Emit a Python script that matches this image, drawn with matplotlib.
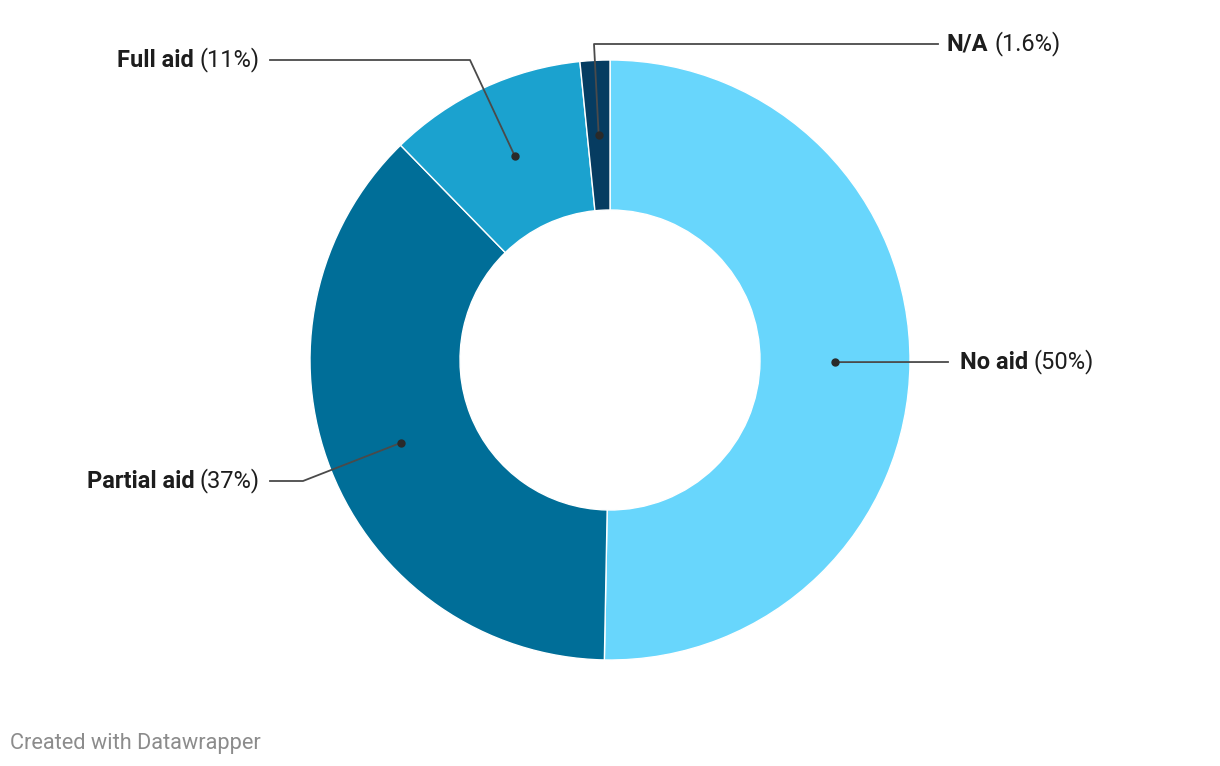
import numpy as np
import matplotlib.pyplot as plt
from matplotlib.offsetbox import TextArea, HPacker, AnnotationBbox

plt.rcParams['font.family'] = ['Roboto', 'DejaVu Sans']

# 数据
labels = ['No aid', 'Partial aid', 'Full aid', 'N/A']
values = [50.3, 37.4, 10.7, 1.6]
pct_text = ['50%', '37%', '11%', '1.6%']
colors = ['#68d6fc', '#006e98', '#1ba2cf', '#063c61']

W, H = 1220, 766
cx, cy, R = 610, 360, 300  # 像素

fig = plt.figure(figsize=(W / 100, H / 100), dpi=100)
ax = fig.add_axes([(cx - R) / W, (H - cy - R) / H, 2 * R / W, 2 * R / H])
ax.axis('off')

wedges, _ = ax.pie(values, colors=colors, startangle=90, counterclock=False,
                   radius=1, wedgeprops=dict(width=0.5, edgecolor='white', linewidth=1))
ax.set_xlim(-1, 1)
ax.set_ylim(-1, 1)

# 引线的折点和标签位置 (数据坐标, 1 = 300px)
def px(x, y):
    return (x - cx) / R, (cy - y) / R

elbows = [px(835, 362), px(303, 481), px(470, 60), px(594, 44)]
line_end = [px(948, 362), px(270, 481), px(270, 60), px(938, 44)]
text_pos = [px(960, 362), px(260, 481), px(260, 60), px(947, 44)]
align = ['left', 'right', 'right', 'left']

line_c = '#4a4a4a'
txt_c = '#1d1d1d'
for i, w in enumerate(wedges):
    mid = np.deg2rad((w.theta1 + w.theta2) / 2)
    dx, dy = 0.75 * np.cos(mid), 0.75 * np.sin(mid)
    ax.plot([dx], [dy], 'o', color='#2a2a2a', ms=5, clip_on=False, zorder=5)
    ex, ey = elbows[i]
    lx, ly = line_end[i]
    if i == 0:
        xs, ys = [dx, lx], [dy, ly]
    else:
        xs, ys = [dx, ex, lx], [dy, ey, ly]
    ax.plot(xs, ys, color=line_c, lw=1.3, clip_on=False, zorder=4)

    t1 = TextArea(labels[i], textprops=dict(fontsize=17, fontweight='bold', color=txt_c))
    t2 = TextArea('(' + pct_text[i] + ')', textprops=dict(fontsize=17, color=txt_c))
    box = HPacker(children=[t1, t2], sep=4, pad=0, align='baseline')
    ab = AnnotationBbox(box, text_pos[i], xycoords='data', frameon=False,
                        box_alignment=(0 if align[i] == 'left' else 1, 0.5),
                        pad=0, annotation_clip=False)
    ax.add_artist(ab)

fig.text(10 / W, 1 - 743 / H, 'Created with Datawrapper', fontsize=15.7, color='#8c8c8c',
         ha='left', va='center')

fig.savefig('out.png', dpi=100)
